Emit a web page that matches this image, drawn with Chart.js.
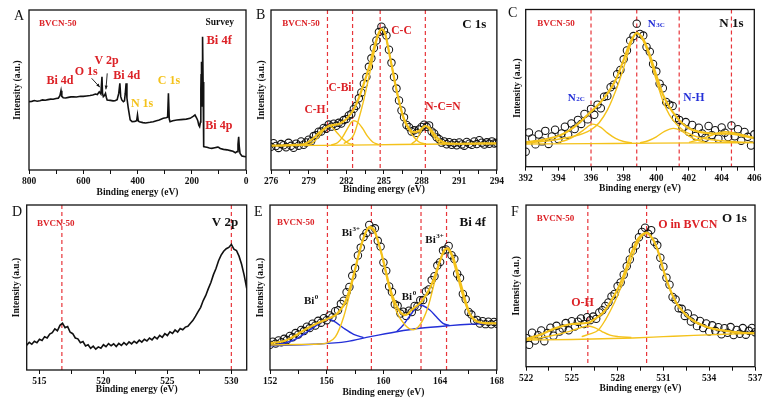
<!DOCTYPE html>
<html>
<head>
<meta charset="utf-8">
<title>BVCN-50 XPS spectra</title>
<script src="https://cdn.jsdelivr.net/npm/chart.js@4.4.1/dist/chart.umd.min.js"></script>
<style>
  html, body { margin: 0; padding: 0; background: #fff; }
  #page { position: relative; width: 768px; height: 399px; overflow: hidden; background: #fff; }
  #page canvas { position: absolute; }
  .tag { position: absolute; font: 14px 'Liberation Serif', serif; line-height: 14px; color: #111; }
</style>
</head>
<body>
<div id="page">
  <canvas id="chartA" width="256" height="200" style="left:0px;top:0px"></canvas>
  <canvas id="chartB" width="256" height="200" style="left:250px;top:0px"></canvas>
  <canvas id="chartC" width="262" height="200" style="left:506px;top:0px"></canvas>
  <canvas id="chartD" width="256" height="199" style="left:0px;top:200px"></canvas>
  <canvas id="chartE" width="256" height="199" style="left:250px;top:200px"></canvas>
  <canvas id="chartF" width="262" height="199" style="left:506px;top:200px"></canvas>
  <div class="tag" style="left:14px;top:9px">A</div>
  <div class="tag" style="left:256px;top:8px">B</div>
  <div class="tag" style="left:508px;top:6px">C</div>
  <div class="tag" style="left:12px;top:205px">D</div>
  <div class="tag" style="left:254px;top:205px">E</div>
  <div class="tag" style="left:511px;top:205px">F</div>
</div>
<script>
// ---- A: survey ----
const aEnergy = [800,790,780,770,760,750,740,730,720,711,700,692,686,682,679,674,665,655,645,637,625,610,600,588,575,565,555,548,541,535,531,529,526,522,518,515,512,500,490,483,475,469,465,462,458,452,448,445,442,439,434,427,420,410,403,400,397,393,380,370,354,342,330,320,305,295,289,286,283,280,270,255,240,220,206,195,188,182,178,174,171,168,166.5,165.5,164.5,163.5,162,161,160.2,159.2,158.2,157,156,155,150,144,135,126,115,105,101,95,83,70,58,48,39,33,29.5,27,25,22,15,8,0];
const aCounts = [42.7,42.9,43.4,43.0,43.3,43.8,43.6,44.0,44.3,44.2,44.7,44.9,46.5,49.6,46,45.2,45.0,45.4,45.7,45.8,45.6,46.1,46.0,46.3,46.6,46.9,47.5,47.2,48.9,47.5,58.3,48,45.8,46.5,47.9,45.5,43.8,43.5,43.2,43.3,44,48,54.2,46,43.8,42.7,43.2,48,54.2,45,38.6,31.3,30.2,30.4,30.8,34.4,30.6,30.2,29.6,29.4,29.8,30.2,30.8,31.2,32.3,32.6,33,47.9,32,30.2,30.8,31.3,31.5,31.8,32.3,33.5,34.4,32.5,31,28,27.1,30,50,60,67.7,52,40,48,65,83.3,55,30,18,14.6,14.4,14.2,13.8,13.5,13.9,14.3,14.2,13.4,12.9,12.6,12.1,11.7,10.8,11.5,16,20.8,15,10.4,8.75,8.5,8.3];
const aTicks = [0,100,200,300,400,500,600,700,800];
const aMajor = [0,200,400,600,800];

// ---- B: C 1s ----
const bEnergy = [276,276.2,276.4,276.6,276.8,277,277.2,277.4,277.6,277.8,278,278.2,278.4,278.6,278.8,279,279.2,279.4,279.6,279.8,280,280.2,280.4,280.6,280.8,281,281.2,281.4,281.6,281.8,282,282.2,282.4,282.6,282.8,283,283.2,283.4,283.6,283.8,284,284.2,284.4,284.6,284.8,285,285.2,285.4,285.6,285.8,286,286.2,286.4,286.6,286.8,287,287.2,287.4,287.6,287.8,288,288.2,288.4,288.6,288.8,289,289.2,289.4,289.6,289.8,290,290.2,290.4,290.6,290.8,291,291.2,291.4,291.6,291.8,292,292.2,292.4,292.6,292.8,293,293.2,293.4,293.6,293.8,294];
const bCounts = [14.5,16.8,15.0,13.8,16.2,15.5,14.2,17.0,15.1,13.9,16.5,15.2,17.8,15.8,17.2,18.9,18.0,21.2,21.8,23.9,24.1,26.3,25.8,28.4,27.1,28.9,27.6,29.5,29.0,31.2,31.8,34.1,35.0,38.2,40.1,44.8,48.5,53.9,58.2,64.5,69.8,76.3,81.0,86.2,89.5,87.0,84.1,75.2,67.0,58.1,50.9,43.5,37.2,32.9,28.1,26.8,24.1,24.8,23.2,25.4,26.9,28.3,27.0,27.9,24.1,22.8,20.4,19.2,17.1,17.9,16.1,17.4,15.8,16.9,15.5,17.2,16.0,15.2,17.5,16.4,15.7,17.8,16.2,18.6,17.1,15.9,17.3,16.4,17.9,16.6,17.0];
const bFitX = [276,277,278,278.6,279,279.4,279.8,280.2,280.6,281,281.4,281.8,282.2,282.6,283,283.4,283.8,284.2,284.5,284.8,285.1,285.4,285.7,286,286.3,286.6,287,287.4,287.8,288.1,288.3,288.6,289,289.4,289.8,290.4,291,292,293,294];
const bFitY = [15.3,15.4,15.7,16.1,17.6,20,23,25.5,27.5,28.2,28.8,30.5,33.5,38,45,54,64,76,84,88,85,74,62,50,40,32,26,23.5,24.5,26.5,27.5,26.5,22.5,19,17.2,16.5,16.4,16.5,16.6,16.7];
const bChX = [278.6,279.2,279.6,280,280.3,280.6,280.9,281.3,281.7,282.1,282.6];
const bChY = [15.5,16.5,19,23,26,27.5,26.5,23,19.5,17,15.7];
const bCbiX = [280.8,281.3,281.7,282.1,282.4,282.6,282.9,283.3,283.7,284.1,284.6];
const bCbiY = [15.6,17,20.5,26,29.8,30.8,29.8,26,21,17.5,15.8];
const bCcX = [281.8,282.2,282.6,283,283.4,283.8,284.2,284.5,284.8,285.1,285.4,285.7,286,286.3,286.6,287,287.4,287.8,288.3];
const bCcY = [16.5,18.5,22,32,44,58,73,83,88,85,74,62,50,39.5,31,25,20.5,17.5,16.2];
const bNcnX = [287.2,287.6,287.9,288.1,288.3,288.5,288.8,289.1,289.5,289.9];
const bNcnY = [16.3,19,23.5,26.3,27.5,26.5,23,19.5,16.8,16.3];
const bBaseX = [276,280,284,288,294];
const bBaseY = [15.2,15.4,15.7,16.1,16.6];
const bPeakLines = [280.5,282.5,284.7,288.3];
const bTicks = [276,277.5,279,280.5,282,283.5,285,286.5,288,289.5,291,292.5,294];
const bMajor = [276,279,282,285,288,291,294];

// ---- C: N 1s ----
const cEnergy = [392,392.2,392.4,392.6,392.8,393,393.2,393.4,393.6,393.8,394,394.2,394.4,394.6,394.8,395,395.2,395.4,395.6,395.8,396,396.2,396.4,396.6,396.8,397,397.2,397.4,397.6,397.8,398,398.2,398.4,398.6,398.8,399,399.2,399.4,399.6,399.8,400,400.2,400.4,400.6,400.8,401,401.2,401.4,401.6,401.8,402,402.2,402.4,402.6,402.8,403,403.2,403.4,403.6,403.8,404,404.2,404.4,404.6,404.8,405,405.2,405.4,405.6,405.8,406];
const cCounts = [9.5,21.8,18.0,14.2,20.5,16.1,22.8,14.5,19.2,23.5,17.5,21.1,25.4,20.3,27.5,24.0,29.8,27.2,33.5,30.1,36.8,33.0,39.5,37.2,44.5,45.0,50.6,52.1,58.8,61.5,68.3,73.9,80.2,83.1,91.0,84.5,83.4,76.2,73.1,65.4,60.5,52.8,49.9,41.2,39.5,38.6,31.0,29.8,25.1,28.4,22.0,26.5,19.5,24.8,21.2,18.4,25.9,20.1,23.2,17.8,25.0,21.6,18.9,26.2,19.3,23.8,16.5,22.1,19.0,13.5,20.6];
const cFitX = [392,393,394,394.5,395,395.5,396,396.5,397,397.5,398,398.4,398.8,399.2,399.6,400,400.4,400.8,401.2,401.6,402,402.5,403,403.5,404,404.5,405,405.5,406];
const cFitY = [15.6,17,19.5,22,25.5,30,35,40,46.5,55,68,79,85,81,71,58,46,38,32,27.5,24.5,22.5,21.5,21,21,21,20.3,19.2,18.2];
const cN3cX = [392,393,394,395,395.5,396,396.5,397,397.5,398,398.4,398.8,399.2,399.6,400,400.4,400.8,401.2,401.6,402,402.5,403,404,405,406];
const cN3cY = [15.2,16,17.5,19.5,21,23.5,28,36,48,63,77,85.2,80,69,55,42,33,27.5,23.5,21,19,17.8,16.5,15.8,15.4];
const cN2cX = [394,394.5,395,395.5,396.1,396.6,397,397.5,398,398.5];
const cN2cY = [15.5,17,19.5,23,27.1,25,21.5,18,16,15.2];
const cNhX = [399,399.5,400,400.5,401.05,401.5,402,402.5,403];
const cNhY = [15.2,16.5,19,22.5,24.4,23,19.5,17,15.6];
const cHighX = [402,402.5,403,403.5,404.2,404.8,405.4,406];
const cHighY = [15.5,16.8,18.5,20.5,22.2,21.5,20,18.3];
const cBaseX = [392,396,400,404,406];
const cBaseY = [14.4,14.7,15,15.2,15.3];
const cPeakLines = [396.0,398.8,401.4,404.6];
const cTicks = [392,393,394,395,396,397,398,399,400,401,402,403,404,405,406];
const cMajor = [392,394,396,398,400,402,404,406];

// ---- D: V 2p ----
const dEnergy = [514,514.2,514.4,514.6,514.8,515,515.2,515.4,515.6,515.8,516,516.2,516.4,516.6,516.8,517,517.2,517.4,517.6,517.8,518,518.2,518.4,518.6,518.8,519,519.2,519.4,519.6,519.8,520,520.2,520.4,520.6,520.8,521,521.2,521.4,521.6,521.8,522,522.2,522.4,522.6,522.8,523,523.2,523.4,523.6,523.8,524,524.2,524.4,524.6,524.8,525,525.2,525.4,525.6,525.8,526,526.2,526.4,526.6,526.8,527,527.2,527.4,527.6,527.8,528,528.2,528.4,528.6,528.8,529,529.2,529.4,529.6,529.8,530,530.2,530.4,530.6,530.8,531,531.2];
const dCounts = [15.0,16.8,15.6,17.4,16.5,18.6,17.9,20.2,19.4,21.8,22.6,24.9,23.8,27.1,28.4,25.6,26.3,22.9,22.0,19.4,18.9,16.5,17.2,14.6,15.3,13.1,14.4,12.6,14.0,13.2,15.3,14.1,16.0,14.7,15.9,14.2,16.1,14.9,16.6,15.2,17.0,15.8,17.4,16.3,18.1,16.9,18.6,17.6,19.4,18.3,20.1,18.9,21.0,19.8,22.0,20.9,23.1,22.2,24.3,23.0,25.2,24.4,26.0,26.5,28.3,30.1,32.6,35.4,38.0,42.1,45.2,49.3,53.0,57.8,61.5,66.2,69.6,72.0,73.5,74.3,76.1,73.2,72.4,69.0,64.1,57.5,49.5];
const dPeakLines = [516.75,530.0];
const dTicks = [515,517.5,520,522.5,525,527.5,530];
const dMajor = [515,520,525,530];

// ---- E: Bi 4f ----
const eEnergy = [152,152.2,152.4,152.6,152.8,153,153.2,153.4,153.6,153.8,154,154.2,154.4,154.6,154.8,155,155.2,155.4,155.6,155.8,156,156.2,156.4,156.6,156.8,157,157.2,157.4,157.6,157.8,158,158.2,158.4,158.6,158.8,159,159.2,159.4,159.6,159.8,160,160.2,160.4,160.6,160.8,161,161.2,161.4,161.6,161.8,162,162.2,162.4,162.6,162.8,163,163.2,163.4,163.6,163.8,164,164.2,164.4,164.6,164.8,165,165.2,165.4,165.6,165.8,166,166.2,166.4,166.6,166.8,167,167.2,167.4,167.6,167.8,168];
const eCounts = [15.3,17.2,16.0,17.9,16.8,18.9,18.2,20.6,19.8,22.4,21.5,24.3,23.6,26.2,25.4,28.1,27.0,29.8,28.7,31.4,30.2,33.1,32.0,35.6,36.2,40.1,42.0,47.2,50.3,57.1,61.8,69.4,74.2,80.6,83.1,87.9,85.2,85.9,78.3,74.8,65.2,60.1,50.6,47.3,39.8,38.9,34.2,35.4,32.8,35.9,35.1,38.8,38.5,42.3,42.4,47.6,48.8,54.5,56.9,63.3,65.4,72.4,73.1,75.2,69.6,67.3,58.4,55.8,46.1,42.9,35.2,33.6,29.9,30.4,28.2,29.6,27.8,29.3,27.7,29.1,28.0];
const eFitX = [152,152.5,153,153.5,153.93,154.3,154.63,155,155.33,155.7,156.03,156.3,156.62,156.9,157.2,157.45,157.71,158,158.25,158.5,158.72,159.02,159.35,159.55,159.77,160,160.23,160.45,160.7,160.95,161.17,161.52,161.75,161.98,162.3,162.57,162.85,163.15,163.45,163.73,164,164.32,164.55,164.8,165.02,165.3,165.6,165.85,166.07,166.35,166.65,167,167.47,168];
const eFitY = [16.2,16.8,17.6,19.5,21.6,23.6,25.3,26.9,28.3,29.7,30.9,31.9,33.3,35.8,39.4,44.5,51.5,61,69.7,77.5,82.8,86.8,84.8,80,73.7,66,57.6,50,43.4,38.5,35.3,33.3,34.2,36.4,38.5,40.4,43.5,47.5,53,59.6,66.5,72.7,73.7,70.5,65.6,57,47.5,40,34.4,31,29.3,28.6,28.3,28.3];
const eBi3X = [152,154,155.5,156.03,156.62,157.2,157.71,158.25,158.72,159.02,159.42,159.88,160.35,160.93,161.52,162.1,162.57,163.15,163.73,164.2,164.43,164.78,165.25,165.72,166.18,166.77,168];
const eBi3Y = [15.2,15.5,15.8,16.5,20.2,32.3,49.5,69.7,82.8,85.9,82.8,69.7,51.5,35.3,27.3,24.4,27.3,38.4,57.6,71.7,73.7,69.7,55.6,41.4,32.3,28.9,28.3];
const eBi0aX = [152,153,153.93,154.63,155.33,156.03,156.5,157.2,157.9,158.6];
const eBi0aY = [15,16.2,19.2,23.2,27.3,30.9,29.7,25.3,21.6,19.6];
const eBi0bX = [160.93,161.4,161.9,162.57,163.27,163.73,164.2,164.67];
const eBi0bY = [23.2,27.3,33.3,39.4,36.4,32.3,28.3,26.9];
const eBaseX = [152,155.1,157.4,159.07,160.93,162.57,164.67,166.07,168];
const eBaseY = [14.7,15.6,17.2,20.2,23.2,25.3,26.9,27.7,28.3];
const ePeakLines = [156.05,159.15,162.65,164.45];
const eTicks = [152,154,156,158,160,162,164,166,168];
const eMajor = [152,156,160,164,168];

// ---- F: O 1s ----
const fEnergy = [522,522.2,522.4,522.6,522.8,523,523.2,523.4,523.6,523.8,524,524.2,524.4,524.6,524.8,525,525.2,525.4,525.6,525.8,526,526.2,526.4,526.6,526.8,527,527.2,527.4,527.6,527.8,528,528.2,528.4,528.6,528.8,529,529.2,529.4,529.6,529.8,530,530.2,530.4,530.6,530.8,531,531.2,531.4,531.6,531.8,532,532.2,532.4,532.6,532.8,533,533.2,533.4,533.6,533.8,534,534.2,534.4,534.6,534.8,535,535.2,535.4,535.6,535.8,536,536.2,536.4,536.6,536.8,537];
const fCounts = [17.8,13.5,21.0,16.2,19.5,22.4,15.8,20.9,24.1,19.2,25.3,21.8,23.6,27.0,22.5,28.2,24.9,27.8,29.9,26.4,30.6,28.8,31.0,29.6,33.5,34.9,37.6,39.8,43.5,45.0,49.8,52.1,56.9,62.2,66.3,71.8,75.0,80.1,83.4,86.0,82.2,84.5,77.3,75.1,67.4,61.9,55.0,50.7,43.1,41.6,36.2,35.8,31.4,32.9,27.9,29.8,25.1,28.3,23.9,26.8,21.7,25.6,22.2,24.4,20.1,23.8,21.0,24.5,19.6,22.7,20.4,23.9,19.8,22.2,24.0,21.3];
const fFitX = [522,523,523.9,525,526.08,526.5,527,527.3,527.6,527.95,528.27,528.55,528.8,529.1,529.36,529.65,529.9,530.15,530.45,530.75,531,531.27,531.54,531.85,532.2,532.6,533.07,533.6,534.16,534.8,535.5,536.2,537];
const fFitY = [17,20,23.7,26.4,27.2,29.5,33,36.5,41.2,47,53.6,60.5,68,74.5,79.4,82,82.9,81,76.3,68.5,59.8,52,45.4,39.5,35,31,27.8,25.5,23.7,22.6,21.6,21,20.6];
const fOxX = [525.65,526.2,526.74,527.2,527.6,527.95,528.27,528.55,528.8,529.1,529.36,529.65,529.9,530.15,530.45,530.75,531,531.27,531.54,531.85,532.2,532.6,533.07,533.6,534.16,534.8,535.5,536.2,537];
const fOxY = [18.6,20.3,22.7,29,36,43,50.5,58,63.9,71.5,77.3,81.3,82.5,80.8,76.3,68.5,59.8,52,45.4,39.3,35,31,27.8,25.3,23.7,22.5,21.6,21,20.6];
const fOhX = [522,523,523.9,524.5,525,525.6,526.08,526.5,527,527.5,528.05,528.9];
const fOhY = [16.5,18,19.6,21,22.3,24.2,25.2,24.2,21.6,19.5,18.6,18.1];
const fBaseX = [522,525,527,529,531,533,535,537];
const fBaseY = [16.5,16.8,17.3,17.8,18.6,19.4,20.1,20.6];
const fPeakLines = [526.05,529.9];
const fTicks = [522,523.5,525,526.5,528,529.5,531,532.5,534,535.5,537];
const fMajor = [522,525,528,531,534,537];

// ---- styling ----
const SERIF = "'Liberation Serif', 'Times New Roman', serif";
const RED = '#dc2227';
const GOLD = '#f4c21b';
const BLUE = '#2430d8';
const INK = '#111111';
const tickFont = { family: SERIF, size: 9.5, weight: 'bold' };
const titleFont = { family: SERIF, size: 9.5, weight: 'bold' };

function pts(xs, ys) {
    return xs.map((x, i) => ({ x: x, y: ys[i] }));
}
function trace(xs, ys) {
    return { data: pts(xs, ys), showLine: true, borderColor: INK, borderWidth: 1.6, pointRadius: 0, tension: 0 };
}
function fit(xs, ys, color, width) {
    return { data: pts(xs, ys), showLine: true, borderColor: color, borderWidth: width || 1.4, pointRadius: 0, cubicInterpolationMode: 'monotone' };
}
function rings(xs, ys) {
    return { data: pts(xs, ys), showLine: false, pointRadius: 3.7, pointBorderWidth: 1.05, pointBorderColor: '#141414', pointBackgroundColor: 'rgba(255,255,255,0)' };
}

// text, arrows and dashed markers for each panel
const decor = {
    chartA: {
        lines: [],
        notes: [
            { text: 'BVCN-50', x: 763, y: 91.2, color: RED, size: 9, align: 'left' },
            { text: 'Survey', x: 97, y: 92, color: INK, size: 9.5 },
            { text: 'Bi 4f', x: 99, y: 80.8, color: RED, size: 12.5 },
            { text: 'V 2p', x: 514, y: 68, color: RED, size: 12 },
            { text: 'O 1s', x: 589, y: 61.4, color: RED, size: 12 },
            { text: 'Bi 4d', x: 686, y: 55.6, color: RED, size: 12 },
            { text: 'Bi 4d', x: 440, y: 58.7, color: RED, size: 12 },
            { text: 'C 1s', x: 284, y: 55.8, color: GOLD, size: 12 },
            { text: 'N 1s', x: 383, y: 41, color: GOLD, size: 12 },
            { text: 'Bi 4p', x: 100, y: 27.5, color: RED, size: 12 }
        ],
        arrows: [
            { from: [569, 57.3], to: [538.6, 51.7] },
            { from: [511.6, 60.4], to: [516.4, 50.4] }
        ]
    },
    chartB: {
        lines: bPeakLines,
        notes: [
            { text: 'BVCN-50', x: 276.9, y: 91.2, color: RED, size: 9, align: 'left' },
            { text: 'C 1s', x: 292.2, y: 90.6, color: INK, size: 13 },
            { text: 'C-C', x: 286.4, y: 86.9, color: RED, size: 11.5 },
            { text: 'C-Bi', x: 281.5, y: 51.2, color: RED, size: 11.5 },
            { text: 'C-H', x: 279.5, y: 37.5, color: RED, size: 11.5 },
            { text: 'N-C=N', x: 289.7, y: 39.4, color: RED, size: 11.5 }
        ]
    },
    chartC: {
        lines: cPeakLines,
        notes: [
            { text: 'BVCN-50', x: 392.7, y: 90.7, color: RED, size: 9, align: 'left' },
            { text: 'N', sub: '3C', x: 400.0, y: 90.7, color: BLUE, size: 11 },
            { text: 'N 1s', x: 404.6, y: 90.7, color: INK, size: 13 },
            { text: 'N', sub: '2C', x: 395.1, y: 43.6, color: BLUE, size: 11 },
            { text: 'N-H', x: 402.3, y: 43.6, color: BLUE, size: 11.5 }
        ]
    },
    chartD: {
        lines: dPeakLines,
        notes: [
            { text: 'BVCN-50', x: 514.8, y: 88.5, color: RED, size: 9, align: 'left' },
            { text: 'V 2p', x: 529.5, y: 89.1, color: INK, size: 13 }
        ]
    },
    chartE: {
        lines: ePeakLines,
        notes: [
            { text: 'BVCN-50', x: 152.5, y: 89.3, color: RED, size: 9, align: 'left' },
            { text: 'Bi 4f', x: 166.3, y: 89.3, color: INK, size: 13 },
            { text: 'Bi', sup: '3+', x: 157.7, y: 83, color: INK, size: 11 },
            { text: 'Bi', sup: '3+', x: 163.6, y: 78.8, color: INK, size: 11 },
            { text: 'Bi', sup: '0', x: 154.9, y: 41.8, color: INK, size: 11 },
            { text: 'Bi', sup: '0', x: 161.8, y: 44.2, color: INK, size: 11 }
        ]
    },
    chartF: {
        lines: fPeakLines,
        notes: [
            { text: 'BVCN-50', x: 522.7, y: 91.3, color: RED, size: 9, align: 'left' },
            { text: 'O in BVCN', x: 532.6, y: 87.6, color: RED, size: 12 },
            { text: 'O 1s', x: 535.65, y: 91.3, color: INK, size: 13 },
            { text: 'O-H', x: 525.7, y: 39.4, color: RED, size: 12 }
        ]
    }
};

function drawNote(ctx, n, xs, ys) {
    const size = n.size || 12;
    const big = 'bold ' + size + 'px ' + SERIF;
    const small = 'bold ' + Math.round(size * 0.64) + 'px ' + SERIF;
    ctx.font = big;
    const w0 = ctx.measureText(n.text).width;
    let w1 = 0;
    if (n.sup || n.sub) {
        ctx.font = small;
        w1 = ctx.measureText(n.sup || n.sub).width + 0.5;
    }
    let px = xs.getPixelForValue(n.x);
    const py = ys.getPixelForValue(n.y);
    if (n.align !== 'left') px -= (w0 + w1) / 2;
    ctx.fillStyle = n.color;
    ctx.textAlign = 'left';
    ctx.textBaseline = 'middle';
    ctx.font = big;
    ctx.fillText(n.text, px, py);
    if (n.sup) {
        ctx.font = small;
        ctx.fillText(n.sup, px + w0 + 0.5, py - size * 0.38);
    }
    if (n.sub) {
        ctx.font = small;
        ctx.fillText(n.sub, px + w0 + 0.5, py + size * 0.12);
    }
}

const panelDecor = {
    id: 'panelDecor',
    beforeDatasetsDraw(chart) {
        const d = decor[chart.canvas.id];
        const { ctx, chartArea: a, scales: { x } } = chart;
        ctx.save();
        ctx.strokeStyle = '#e8353a';
        ctx.lineWidth = 1.2;
        ctx.setLineDash([4, 3]);
        d.lines.forEach(v => {
            const px = x.getPixelForValue(v);
            ctx.beginPath();
            ctx.moveTo(px, a.top);
            ctx.lineTo(px, a.bottom);
            ctx.stroke();
        });
        ctx.restore();
    },
    afterDraw(chart) {
        const d = decor[chart.canvas.id];
        const { ctx, chartArea: a, scales: { x, y } } = chart;
        ctx.save();
        ctx.strokeStyle = INK;
        ctx.lineWidth = 1.3;
        ctx.strokeRect(a.left, a.top, a.right - a.left, a.bottom - a.top);
        (d.arrows || []).forEach(ar => {
            const x1 = x.getPixelForValue(ar.from[0]), y1 = y.getPixelForValue(ar.from[1]);
            const x2 = x.getPixelForValue(ar.to[0]), y2 = y.getPixelForValue(ar.to[1]);
            const ang = Math.atan2(y2 - y1, x2 - x1);
            ctx.lineWidth = 0.9;
            ctx.beginPath();
            ctx.moveTo(x1, y1);
            ctx.lineTo(x2, y2);
            ctx.stroke();
            ctx.fillStyle = INK;
            ctx.beginPath();
            ctx.moveTo(x2, y2);
            ctx.lineTo(x2 - 4 * Math.cos(ang - 0.4), y2 - 4 * Math.sin(ang - 0.4));
            ctx.lineTo(x2 - 4 * Math.cos(ang + 0.4), y2 - 4 * Math.sin(ang + 0.4));
            ctx.closePath();
            ctx.fill();
        });
        d.notes.forEach(n => drawNote(ctx, n, x, y));
        ctx.restore();
    }
};
Chart.register(panelDecor);

function makePanel(spec) {
    return new Chart(document.getElementById(spec.id), {
        type: 'scatter',
        data: { datasets: spec.datasets },
        options: {
            responsive: false,
            animation: false,
            events: [],
            layout: { padding: { top: spec.padT, right: spec.padR, left: 0, bottom: 0 } },
            plugins: { legend: { display: false }, tooltip: { enabled: false } },
            scales: {
                x: {
                    type: 'linear',
                    min: spec.min,
                    max: spec.max,
                    reverse: !!spec.reverse,
                    bounds: 'data',
                    afterBuildTicks: s => { s.ticks = spec.ticks.map(v => ({ value: v })); },
                    afterFit: s => { s.height = spec.xH; },
                    ticks: {
                        autoSkip: false,
                        maxRotation: 0,
                        padding: 2,
                        color: INK,
                        font: tickFont,
                        callback: v => (spec.major.includes(v) ? String(v) : '')
                    },
                    grid: { display: true, drawOnChartArea: false, tickLength: 4, color: INK, lineWidth: 1 },
                    border: { display: false },
                    title: { display: true, text: 'Binding energy (eV)', color: INK, font: titleFont, padding: { top: 0, bottom: spec.xPad } }
                },
                y: {
                    min: 0,
                    max: 100,
                    afterFit: s => { s.width = spec.yW; },
                    ticks: { display: false },
                    grid: { display: false },
                    border: { display: false },
                    title: { display: true, text: 'Intensity (a.u.)', color: INK, font: titleFont, padding: { top: spec.yPad, bottom: 0 } }
                }
            }
        }
    });
}

const panels = [
    { id: 'chartA', min: 0, max: 800, reverse: true, ticks: aTicks, major: aMajor,
      yW: 29, padT: 10, padR: 10, xH: 30, yPad: 11.5, xPad: 1.5,
      datasets: [trace(aEnergy, aCounts)] },
    { id: 'chartB', min: 276, max: 294, ticks: bTicks, major: bMajor,
      yW: 21, padT: 10, padR: 7.7, xH: 30, yPad: 5.9, xPad: 5,
      datasets: [fit(bFitX, bFitY, GOLD, 2.2), fit(bCcX, bCcY, GOLD), fit(bCbiX, bCbiY, GOLD), fit(bChX, bChY, GOLD),
                 fit(bNcnX, bNcnY, GOLD), fit(bBaseX, bBaseY, GOLD), rings(bEnergy, bCounts)] },
    { id: 'chartC', min: 392, max: 406, ticks: cTicks, major: cMajor,
      yW: 19.7, padT: 9.5, padR: 13.7, xH: 33.3, yPad: 5.8, xPad: 6,
      datasets: [fit(cFitX, cFitY, GOLD, 2.2), fit(cN3cX, cN3cY, GOLD), fit(cN2cX, cN2cY, GOLD), fit(cNhX, cNhY, GOLD),
                 fit(cHighX, cHighY, GOLD), fit(cBaseX, cBaseY, GOLD), rings(cEnergy, cCounts)] },
    { id: 'chartD', min: 514, max: 531.2, ticks: dTicks, major: dMajor,
      yW: 26.7, padT: 5, padR: 9.3, xH: 29, yPad: 10.6, xPad: 4,
      datasets: [trace(dEnergy, dCounts)] },
    { id: 'chartE', min: 152, max: 168, ticks: eTicks, major: eMajor,
      yW: 20, padT: 5, padR: 6.7, xH: 29, yPad: 5.3, xPad: 0.6,
      datasets: [fit(eFitX, eFitY, GOLD, 2.2), fit(eBi3X, eBi3Y, GOLD), fit(eBi0aX, eBi0aY, BLUE), fit(eBi0bX, eBi0bY, BLUE),
                 fit(eBaseX, eBaseY, BLUE), rings(eEnergy, eCounts)] },
    { id: 'chartF', min: 522, max: 537, ticks: fTicks, major: fMajor,
      yW: 20, padT: 5, padR: 13, xH: 32.3, yPad: 4.8, xPad: 5,
      datasets: [fit(fFitX, fFitY, GOLD, 2.2), fit(fOxX, fOxY, GOLD), fit(fOhX, fOhY, GOLD), fit(fBaseX, fBaseY, GOLD),
                 rings(fEnergy, fCounts)] }
];

panels.forEach(makePanel);
</script>
</body>
</html>
